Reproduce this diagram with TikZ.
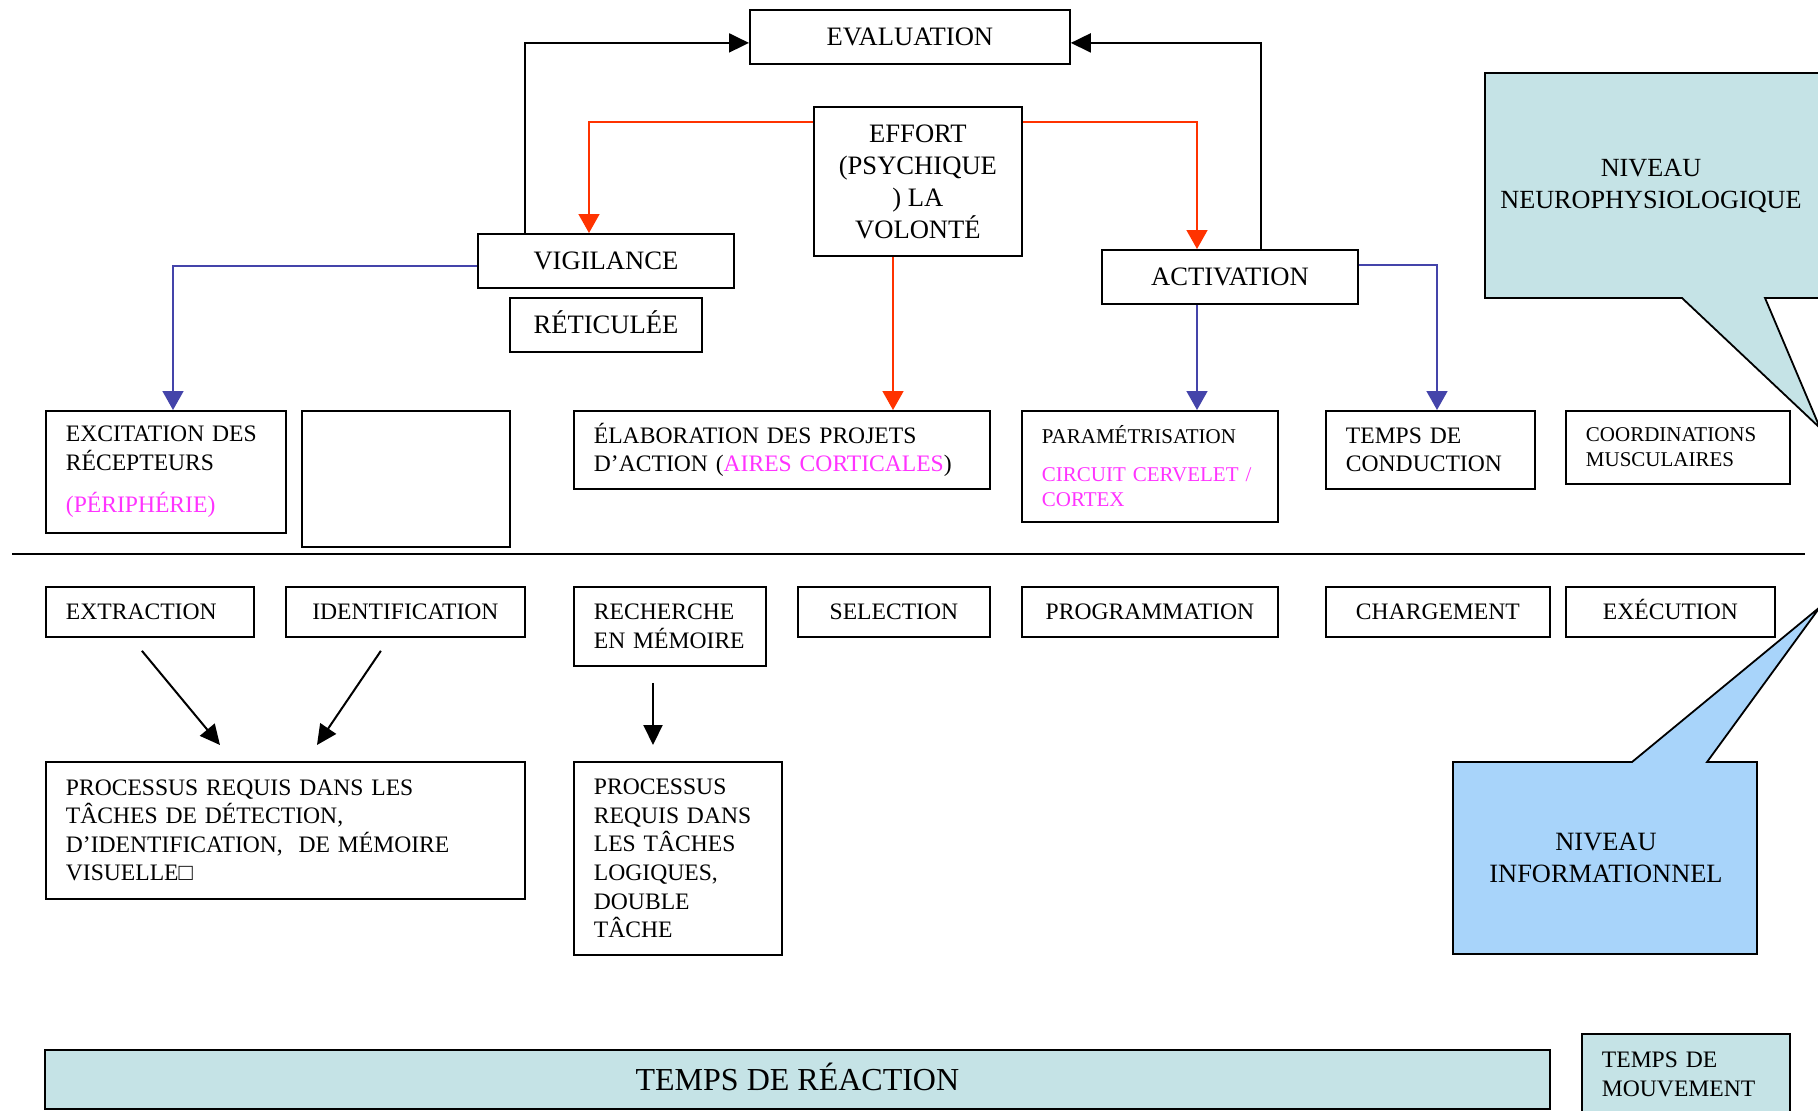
\documentclass[tikz,border=0pt]{standalone}
\usepackage{fontspec}
\setmainfont{Liberation Serif}
\usetikzlibrary{arrows.meta}
\definecolor{tealfill}{RGB}{197,227,230}
\definecolor{infofill}{RGB}{168,212,250}
\definecolor{pinktxt}{RGB}{255,51,255}
\definecolor{redarrow}{RGB}{255,51,0}
\definecolor{bluearrow}{RGB}{68,68,170}
\begin{document}
\begin{tikzpicture}[x=0.5pt,y=-0.5pt,
  box/.style={draw=black, line width=0.9pt, rectangle, inner sep=0pt, anchor=north west, align=center},
  lbox/.style={box, align=left, inner xsep=10pt},
  fbig/.style={font=\fontsize{13.3}{16}\selectfont},
  fmid/.style={font=\fontsize{11.8}{14.2}\selectfont},
  fsmall/.style={font=\fontsize{10.5}{12.7}\selectfont},
  capsbig/.style={text height=8.8pt, text depth=0pt},
  capsmid/.style={text height=7.8pt, text depth=0pt},
  blk/.style={line width=1pt, -{Triangle[length=10pt,width=9.5pt]}},
  redc/.style={draw=redarrow, line width=0.8pt, -{Triangle[length=9.5pt,width=10.5pt,fill=redarrow]}},
  bluec/.style={draw=bluearrow, line width=0.8pt, -{Triangle[length=9.5pt,width=10.5pt,fill=bluearrow]}},
  callout/.style={draw=black, line width=0.9pt, line join=miter}
]
\useasboundingbox (0,0) rectangle (1818,1110);
\clip (0,0) rectangle (1818,1110);

% speech bubbles
\draw[callout, fill=tealfill] (1485,73) -- (1840,73) -- (1840,298) -- (1765,298)
  -- (1820,428) -- (1682,298) -- (1485,298) -- cycle;
\node[align=center, font=\fontsize{13.1}{16}\selectfont] (neuro) at (1651,186) {NIVEAU\\NEUROPHYSIOLOGIQUE};
\draw[callout, fill=infofill] (1453,762) -- (1632,762) -- (1820,607) -- (1707,762)
  -- (1757,762) -- (1757,954) -- (1453,954) -- cycle;
\node[align=center, font=\fontsize{13.2}{16}\selectfont] (info) at (1606,858) {NIVEAU\\INFORMATIONNEL};

% upper level
\node[box,fbig,capsbig,minimum width=160pt,minimum height=27pt] (eval) at (749,9) {EVALUATION};
\node[box,fbig,minimum width=104pt,minimum height=74.5pt] (effort) at (813,106) {EFFORT\\(PSYCHIQUE\\) LA\\VOLONTÉ};
\node[box,fbig,capsbig,minimum width=128pt,minimum height=27pt] (vig) at (477,233) {VIGILANCE};
\node[box,fbig,capsbig,minimum width=96pt,minimum height=27pt] (ret) at (509,297) {RÉTICULÉE};
\node[box,fbig,capsbig,minimum width=128pt,minimum height=27pt] (act) at (1101,249) {ACTIVATION};

\node[lbox,fmid,minimum width=120pt,minimum height=61pt,text width=100pt] (exc) at (45,410)
  {EXCITATION DES\\RÉCEPTEURS\\[7pt]\textcolor{pinktxt}{(PÉRIPHÉRIE)}};
\node[box,minimum width=104pt,minimum height=68pt] (blank) at (301,410) {};
\node[lbox,fmid,minimum width=208pt,minimum height=39pt,text width=188pt] (elab) at (573,410)
  {ÉLABORATION DES PROJETS\\D’ACTION (\textcolor{pinktxt}{AIRES CORTICALES})};
\node[lbox,fsmall,minimum width=128pt,minimum height=55.5pt,text width=108pt] (param) at (1021,410)
  {PARAMÉTRISATION\\[6pt]\textcolor{pinktxt}{CIRCUIT CERVELET /}\\\textcolor{pinktxt}{CORTEX}};
\node[lbox,fmid,minimum width=104.5pt,minimum height=39pt,text width=84.5pt] (cond) at (1325,410)
  {TEMPS DE\\CONDUCTION};
\node[lbox,fsmall,minimum width=112pt,minimum height=36.5pt,text width=92pt] (coord) at (1565,410)
  {COORDINATIONS\\MUSCULAIRES};

% separation between the two levels
\draw[line width=1pt] (12,554) -- (1805,554);

% lower level
\node[lbox,fmid,capsmid,minimum width=104pt,minimum height=25pt,text width=84pt] (extr) at (45,586) {EXTRACTION};
\node[box,fmid,capsmid,minimum width=119.5pt,minimum height=25pt] (ident) at (285,586) {IDENTIFICATION};
\node[lbox,fmid,minimum width=96pt,minimum height=39.5pt,text width=76pt] (rech) at (573,586) {RECHERCHE\\EN MÉMOIRE};
\node[box,fmid,capsmid,minimum width=96pt,minimum height=25pt] (sel) at (797,586) {SELECTION};
\node[box,fmid,capsmid,minimum width=128pt,minimum height=25pt] (prog) at (1021,586) {PROGRAMMATION};
\node[box,fmid,capsmid,minimum width=112pt,minimum height=25pt] (charg) at (1325,586) {CHARGEMENT};
\node[box,fmid,capsmid,minimum width=104.5pt,minimum height=25pt] (exec) at (1565,586) {EXÉCUTION};

\node[lbox,fmid,minimum width=239.5pt,minimum height=68.5pt,text width=219.5pt] (proc1) at (45,761)
  {PROCESSUS REQUIS DANS LES\\TÂCHES DE DÉTECTION,\\D’IDENTIFICATION,\ \ DE MÉMOIRE\\VISUELLE□};
\node[lbox,font=\fontsize{11.8}{14.3}\selectfont,minimum width=104pt,minimum height=96.5pt,text width=84pt] (proc2) at (573,761)
  {PROCESSUS\\REQUIS DANS\\LES TÂCHES\\LOGIQUES,\\DOUBLE\\TÂCHE};

% timing bars
\node[box,fill=tealfill,font=\fontsize{16}{19}\selectfont,text height=10.6pt,text depth=0pt,minimum width=752.5pt,minimum height=29.5pt] (rt) at (44,1049) {TEMPS DE RÉACTION};
\node[lbox,fill=tealfill,font=\fontsize{11.8}{14.5}\selectfont,minimum width=104pt,minimum height=40.5pt,text width=84pt] (tm) at (1581,1033)
  {TEMPS DE\\MOUVEMENT};

% feedback towards the evaluation
\draw[blk] ([xshift=24pt]vig.north west) |- ([yshift=-3pt]eval.west);
\draw[blk] ([xshift=80pt]act.north west) |- ([yshift=-3pt]eval.east);

% effort
\draw[redc] ([yshift=-8pt]effort.north west) -| ([xshift=56pt]vig.north west);
\draw[redc] ([yshift=-8pt]effort.north east) -| ([xshift=48pt]act.north west);
\draw[redc] ([xshift=40pt]effort.south west) -- ([xshift=160pt]elab.north west);

% vigilance and activation
\draw[bluec] ([yshift=-16.5pt]vig.north west) -| ([xshift=64pt]exc.north west);
\draw[bluec] ([xshift=48pt]act.south west) -- ([xshift=88pt]param.north west);
\draw[bluec] ([yshift=-8pt]act.north east) -| ([xshift=56pt]cond.north west);

% informational processes
\draw[blk] ([shift={(-4pt,-6.5pt)}]extr.south) -- ([shift={(87.5pt,8pt)}]proc1.north west);
\draw[blk] ([shift={(-12.25pt,-6.5pt)}]ident.south) -- ([shift={(136pt,8pt)}]proc1.north west);
\draw[blk] ([shift={(40pt,-8pt)}]rech.south west) -- ([shift={(40pt,8pt)}]proc2.north west);
\end{tikzpicture}
\end{document}
